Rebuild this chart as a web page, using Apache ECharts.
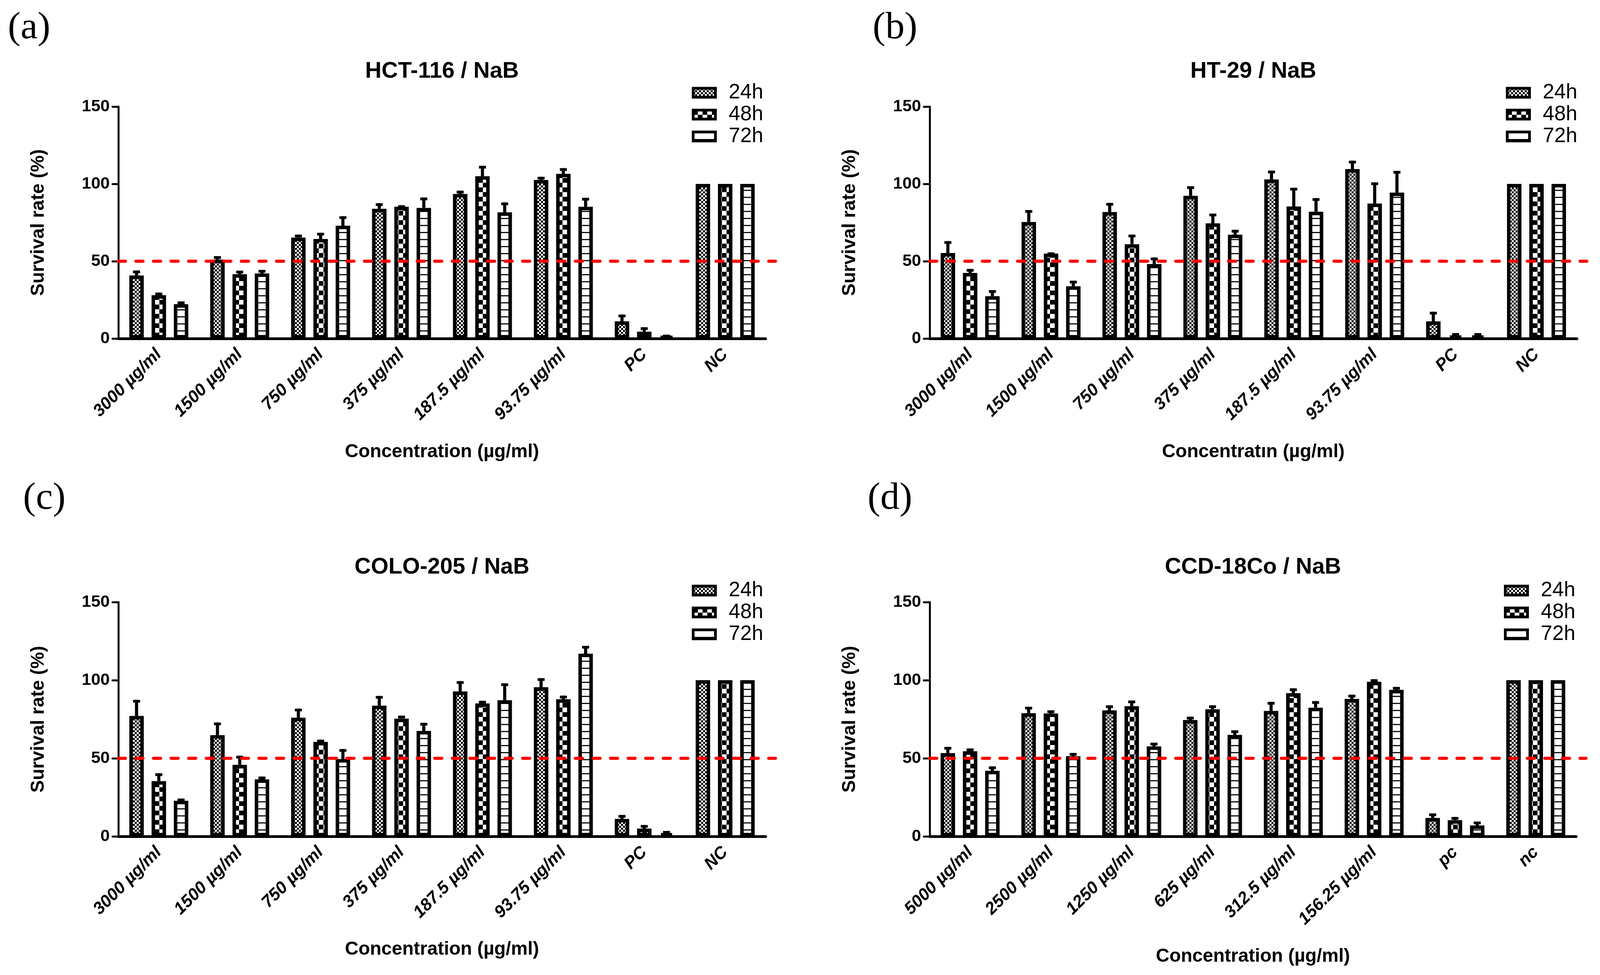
<!DOCTYPE html>
<html>
<head>
<meta charset="utf-8">
<script src="https://cdn.jsdelivr.net/npm/echarts@6/dist/echarts.min.js"></script>
<style>
  html, body { margin: 0; padding: 0; background: #fff; }
  #chart { width: 4100px; height: 2497px; }
</style>
</head>
<body>
<div id="chart"></div>
<script>
// categories
const catsNaB = ['3000 µg/ml', '1500 µg/ml', '750 µg/ml', '375 µg/ml', '187.5 µg/ml', '93.75 µg/ml', 'PC', 'NC']
const catsCCD = ['5000 µg/ml', '2500 µg/ml', '1250 µg/ml', '625 µg/ml', '312.5 µg/ml', '156.25 µg/ml', 'pc', 'nc']
const times = ['24h', '48h', '72h']
const yTicks = [0, 50, 100, 150]
const threshold = 50

// (a) HCT-116 mean / SD
const hct24 = [40.8, 51.1, 65.3, 83.9, 93.5, 102.5, 11.1, 100]
const hct24Sd = [3.2, 2.2, 1.9, 3.6, 2.1, 2.1, 4.4, 0]
const hct48 = [28.0, 41.6, 64.4, 85.2, 105.0, 106.5, 4.4, 100]
const hct48Sd = [1.7, 2.3, 4.0, 1.0, 6.7, 3.7, 2.9, 0]
const hct72 = [22.2, 42.1, 73.0, 84.5, 81.6, 85.2, 1.5, 100]
const hct72Sd = [1.8, 2.3, 6.1, 6.7, 6.4, 5.8, 1.0, 0]

// (b) HT-29
const ht24 = [55.3, 75.4, 81.8, 92.3, 102.9, 109.6, 11.1, 100]
const ht24Sd = [7.7, 7.7, 5.9, 6.2, 5.7, 5.4, 6.2, 0]
const ht48 = [42.4, 54.9, 61.0, 74.5, 85.4, 87.3, 1.9, 100]
const ht48Sd = [2.6, 0.8, 6.2, 6.3, 12.1, 13.7, 1.6, 0]
const ht72 = [27.4, 33.8, 48.2, 67.2, 82.0, 94.4, 1.9, 100]
const ht72Sd = [3.9, 3.6, 4.2, 3.1, 8.8, 14.0, 1.6, 0]

// (c) COLO-205
const colo24 = [77.1, 64.8, 76.0, 83.7, 92.8, 95.5, 11.2, 100]
const colo24Sd = [10.3, 8.1, 5.8, 6.2, 6.6, 5.8, 2.5, 0]
const colo48 = [35.4, 45.8, 60.5, 75.4, 85.1, 87.8, 5.0, 100]
const colo48Sd = [5.0, 5.8, 1.4, 1.9, 1.7, 2.3, 2.3, 0]
const colo72 = [22.8, 36.5, 49.5, 67.5, 87.2, 117.0, 2.1, 100]
const colo72Sd = [1.4, 1.8, 6.4, 5.2, 10.8, 5.0, 1.4, 0]

// (d) CCD-18Co
const ccd24 = [53.3, 78.9, 80.7, 74.5, 80.3, 88.0, 11.8, 100]
const ccd24Sd = [4.0, 4.1, 3.2, 2.1, 5.8, 2.7, 2.9, 0]
const ccd48 = [54.5, 78.7, 83.4, 81.4, 91.7, 99.0, 10.4, 100]
const ccd48Sd = [1.8, 2.0, 3.6, 2.5, 3.1, 1.6, 2.0, 0]
const ccd72 = [42.0, 51.3, 57.6, 65.0, 82.4, 93.8, 7.0, 100]
const ccd72Sd = [2.8, 2.1, 2.4, 2.9, 4.2, 1.9, 2.5, 0]

const panels = [
  { letter: '(a)', title: 'HCT-116 / NaB', xName: 'Concentration (µg/ml)', cats: catsNaB,
    means: [hct24, hct48, hct72], sds: [hct24Sd, hct48Sd, hct72Sd],
    grid: { left: 303, top: 273, width: 1657, height: 594 }, nameGap: 267, titleY: 183,
    legend: { left: 1771, top: 211 }, letterPos: [20, 72] },
  { letter: '(b)', title: 'HT-29 / NaB', xName: 'Concentratın (µg/ml)', cats: catsNaB,
    means: [ht24, ht48, ht72], sds: [ht24Sd, ht48Sd, ht72Sd],
    grid: { left: 2380, top: 273, width: 1657, height: 594 }, nameGap: 267, titleY: 183,
    legend: { left: 3855, top: 211 }, letterPos: [2234, 72] },
  { letter: '(c)', title: 'COLO-205 / NaB', xName: 'Concentration (µg/ml)', cats: catsNaB,
    means: [colo24, colo48, colo72], sds: [colo24Sd, colo48Sd, colo72Sd],
    grid: { left: 303, top: 1542, width: 1657, height: 600 }, nameGap: 266, titleY: 1453,
    legend: { left: 1771, top: 1486 }, letterPos: [59, 1277] },
  { letter: '(d)', title: 'CCD-18Co / NaB', xName: 'Concentration (µg/ml)', cats: catsCCD,
    means: [ccd24, ccd48, ccd72], sds: [ccd24Sd, ccd48Sd, ccd72Sd],
    grid: { left: 2380, top: 1542, width: 1655, height: 600 }, nameGap: 284, titleY: 1453,
    legend: { left: 3850, top: 1486 }, letterPos: [2221, 1277] }
]

const FONT = "'Liberation Sans', Arial, sans-serif"
const BAR_W = 37   // ECharts keeps the border inside the bar width
const BAR_GAP = 20

function makePattern(kind) {
  const c = document.createElement('canvas')
  const ctx = c.getContext('2d')
  if (kind === 0) {
    c.width = c.height = 10
    ctx.fillStyle = '#fff'; ctx.fillRect(0, 0, 10, 10)
    ctx.fillStyle = '#000'; ctx.fillRect(0, 0, 5, 5); ctx.fillRect(5, 5, 5, 5)
  } else if (kind === 1) {
    c.width = c.height = 24
    ctx.fillStyle = '#fff'; ctx.fillRect(0, 0, 24, 24)
    ctx.fillStyle = '#000'; ctx.fillRect(0, 0, 12, 12); ctx.fillRect(12, 12, 12, 12)
  } else {
    c.width = c.height = 18
    ctx.fillStyle = '#fff'; ctx.fillRect(0, 0, 18, 18)
    ctx.fillStyle = '#111'; ctx.fillRect(0, 0, 18, 3)
  }
  return { image: c, repeat: 'repeat' }
}
const patterns = [makePattern(0), makePattern(1), makePattern(2)]

function errRender(offset) {
  return function (params, api) {
    const mean = api.value(1)
    const up = api.value(2)
    if (!(up > mean)) return null
    const top = api.coord([api.value(0), up])
    const bot = api.coord([api.value(0), mean])
    const x = top[0] + offset
    return {
      type: 'group',
      children: [
        { type: 'rect', shape: { x: x - 4, y: top[1], width: 8, height: bot[1] - top[1] }, style: { fill: '#000' } },
        { type: 'rect', shape: { x: x - 9, y: top[1], width: 18, height: 7 }, style: { fill: '#000' } }
      ]
    }
  }
}

const option = {
  animation: false,
  backgroundColor: '#fff',
  title: [],
  legend: [],
  grid: [],
  xAxis: [],
  yAxis: [],
  series: []
}

panels.forEach((p, i) => {
  const g = p.grid
  option.grid.push({ left: g.left, top: g.top, width: g.width, height: g.height, containLabel: false })
  option.title.push({
    text: p.title, left: g.left + g.width / 2, top: p.titleY,
    textAlign: 'center', textVerticalAlign: 'middle', padding: 0,
    textStyle: { fontFamily: FONT, fontSize: 58, fontWeight: 'bold', color: '#000' }
  })
  option.title.push({
    text: p.letter, left: p.letterPos[0], top: p.letterPos[1],
    textAlign: 'left', textVerticalAlign: 'middle', padding: 0,
    textStyle: { fontFamily: "'Liberation Serif', 'DejaVu Serif', serif", fontSize: 98, fontWeight: 'normal', color: '#000' }
  })
  option.legend.push({
    data: times, orient: 'vertical', left: p.legend.left, top: p.legend.top,
    itemWidth: 57, itemHeight: 23, itemGap: 3, icon: 'rect',
    selectedMode: false, padding: 0,
    itemStyle: { borderColor: '#000', borderWidth: 7 },
    formatter: '{t|{name}}',
    textStyle: {
      fontFamily: FONT, fontSize: 53, color: '#000',
      rich: { t: { fontFamily: FONT, fontSize: 53, lineHeight: 50, color: '#000', padding: [0, 0, 0, 29] } }
    }
  })
  option.xAxis.push({
    type: 'category', gridIndex: i, data: p.cats,
    name: p.xName, nameLocation: 'middle', nameGap: p.nameGap,
    nameTextStyle: { fontFamily: FONT, fontSize: 48, fontWeight: 'bold', color: '#000' },
    axisLine: { lineStyle: { color: '#000', width: 7 } },
    axisTick: { alignWithLabel: true, length: 15, lineStyle: { color: '#000', width: 7 } },
    axisLabel: { interval: 0, rotate: 45, margin: 34, fontFamily: FONT, fontSize: 44, fontWeight: 'bold', fontStyle: 'italic', color: '#000' },
    splitLine: { show: false }
  })
  option.yAxis.push({
    type: 'value', gridIndex: i, min: yTicks[0], max: yTicks[yTicks.length - 1], interval: yTicks[1] - yTicks[0],
    name: 'Survival rate (%)', nameLocation: 'middle', nameGap: 180,
    nameTextStyle: { fontFamily: FONT, fontSize: 48, fontWeight: 'bold', color: '#000' },
    axisLine: { show: true, lineStyle: { color: '#000', width: 5 } },
    axisTick: { show: true, length: 17, lineStyle: { color: '#000', width: 5 } },
    axisLabel: { margin: 22, fontFamily: FONT, fontSize: 43, fontWeight: 'bold', color: '#000' },
    splitLine: { show: false }
  })
  times.forEach((t, k) => {
    option.series.push({
      type: 'bar', name: t, xAxisIndex: i, yAxisIndex: i,
      data: p.means[k], barWidth: BAR_W, barGap: (BAR_GAP / BAR_W * 100) + '%',
      itemStyle: { color: patterns[k], borderColor: '#000', borderWidth: 9 },
      z: 2
    })
  })
  times.forEach((t, k) => {
    option.series.push({
      type: 'custom', xAxisIndex: i, yAxisIndex: i,
      renderItem: errRender((k - 1) * (BAR_W + BAR_GAP)),
      data: p.means[k].map((m, j) => [j, m, m + p.sds[k][j]]),
      encode: { x: 0, y: [1, 2] },
      z: 3, silent: true
    })
  })
})

// hidden grids for the 50% dashed line, slightly wider than the plot
panels.forEach((p, i) => {
  const g = p.grid
  const gi = option.grid.length
  option.grid.push({ left: g.left, top: g.top, width: g.width + 25, height: g.height, containLabel: false })
  option.xAxis.push({ type: 'value', gridIndex: gi, min: 0, max: 1, show: false })
  option.yAxis.push({ type: 'value', gridIndex: gi, min: yTicks[0], max: yTicks[yTicks.length - 1], show: false })
  option.series.push({
    type: 'line', xAxisIndex: gi, yAxisIndex: gi,
    data: [[0, threshold], [1, threshold]], symbol: 'none', silent: true,
    lineStyle: { color: '#ff0000', width: 8, type: [18, 27], cap: 'round' },
    z: 10
  })
})

const chart = echarts.init(document.getElementById('chart'))
chart.setOption(option)
</script>
</body>
</html>
